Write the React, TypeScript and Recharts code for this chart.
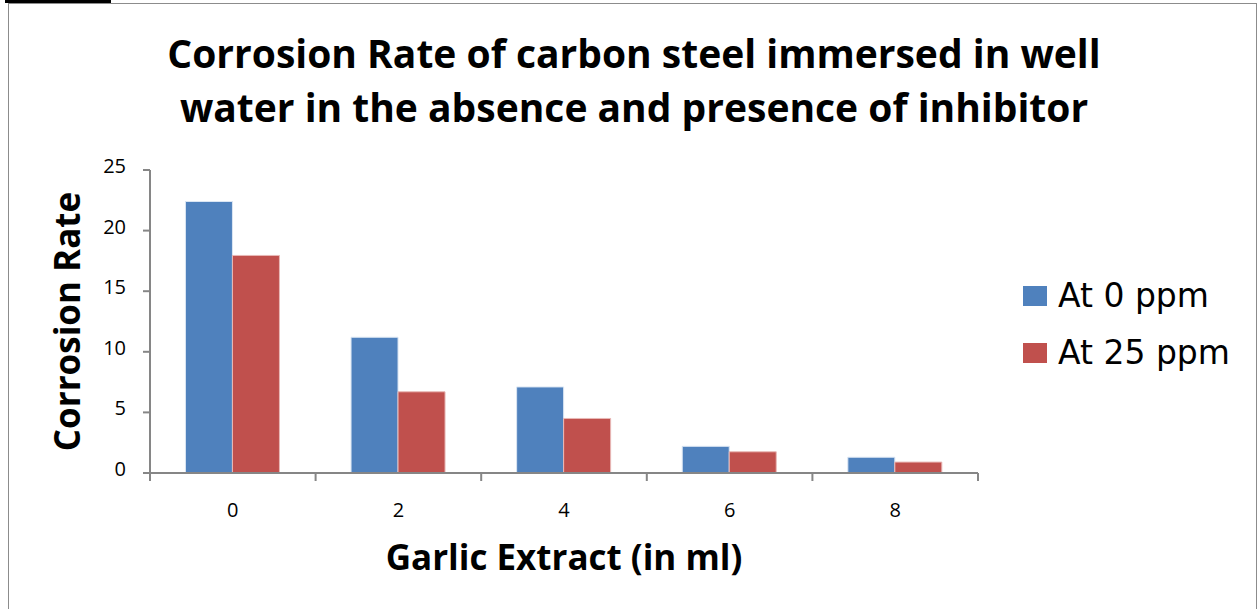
import { BarChart, Bar, XAxis, YAxis, Legend, Label } from "recharts";

const extract = ["0", "2", "4", "6", "8"];
const at0ppm = [22.4, 11.2, 7.1, 2.2, 1.3];
const at25ppm = [17.95, 6.7, 4.5, 1.75, 0.9];
const yTicks = [0, 5, 10, 15, 20, 25];

const data = extract.map((x, i) => ({ x, a: at0ppm[i], b: at25ppm[i] }));

const axisColor = "#868686";
const font = "'Open Sans', sans-serif";

function LegendBox({ payload }: any) {
  return (
    <div style={{ fontFamily: "'DejaVu Sans', sans-serif", fontSize: 33, color: "#000" }}>
      {(payload || []).map((p: any) => (
        <div key={p.value} style={{ display: "flex", alignItems: "center", height: 57 }}>
          <span style={{ width: 24, height: 20, background: p.color, marginRight: 11 }} />
          <span>{p.value}</span>
        </div>
      ))}
    </div>
  );
}

// label at the band centre, tick marks on the band edges (spreadsheet style)
function XTick({ x, y, payload, index, visibleTicksCount }: any) {
  const half = payload.offset || 0;
  const last = index === visibleTicksCount - 1;
  return (
    <g>
      <line x1={x - half} x2={x - half} y1={y} y2={y + 8} stroke={axisColor} strokeWidth={2} />
      {last && <line x1={x + half} x2={x + half} y1={y} y2={y + 8} stroke={axisColor} strokeWidth={2} />}
      <text x={x} y={y} dy={44} textAnchor="middle" fill="#000" style={{ fontSize: 20, fontFamily: font }}>
        {payload.value}
      </text>
    </g>
  );
}

function YTick({ x, y, payload }: any) {
  return (
    <text x={x} y={y} dy={3} textAnchor="end" fill="#000" style={{ fontSize: 20, fontFamily: font }}>
      {payload.value}
    </text>
  );
}

export default function App() {
  return (
    <div style={{ position: "absolute", left: 0, top: 0, width: 1258, height: 609, background: "#fff", overflow: "hidden" }}>
      <div style={{ position: "absolute", left: 5, top: 0, width: 106, height: 3, background: "#000" }} />
      <div
        style={{
          position: "absolute",
          left: 8,
          top: 3,
          width: 1247,
          height: 620,
          border: "1px solid #8c8c8c",
          borderBottom: "none",
        }}
      />
      <div
        style={{
          position: "absolute",
          left: 0,
          top: 26,
          width: 1268,
          textAlign: "center",
          fontFamily: font,
          fontWeight: 700,
          fontSize: 39,
          lineHeight: "54px",
          color: "#000",
        }}
      >
        Corrosion Rate of carbon steel immersed in well
        <br />
        water in the absence and presence of inhibitor
      </div>
      <BarChart
        width={1258}
        height={609}
        data={data}
        margin={{ top: 170, right: 50, bottom: 0, left: 0 }}
        barCategoryGap="21.4%"
        barGap={0}
        style={{ position: "absolute", left: 0, top: 0 }}
      >
        <XAxis
          dataKey="x"
          height={136}
          axisLine={{ stroke: axisColor, strokeWidth: 2 }}
          tickLine={false}
          tickSize={0}
          tickMargin={0}
          tick={<XTick />}
        >
          <Label
            value="Garlic Extract (in ml)"
            position="insideTop"
            offset={72}
            style={{ fill: "#000", fontSize: 35, fontWeight: 700, fontFamily: font }}
          />
        </XAxis>
        <YAxis
          width={150}
          domain={[0, 25]}
          ticks={yTicks}
          axisLine={{ stroke: axisColor, strokeWidth: 2 }}
          tickLine={{ stroke: axisColor, strokeWidth: 2 }}
          tickSize={7}
          tickMargin={17}
          tick={<YTick />}
        >
          <Label
            value="Corrosion Rate"
            angle={-90}
            position="insideLeft"
            offset={68}
            style={{ textAnchor: "middle", fill: "#000", fontSize: 35, fontWeight: 700, fontFamily: font }}
          />
        </YAxis>
        <Legend
          layout="vertical"
          align="right"
          verticalAlign="top"
          content={<LegendBox />}
          wrapperStyle={{ left: 1023, top: 267, width: 230 }}
        />
        <Bar dataKey="a" name="At 0 ppm" fill="#4f81bd" stroke="#dbe6f3" strokeWidth={1} isAnimationActive={false} />
        <Bar dataKey="b" name="At 25 ppm" fill="#c0504d" stroke="#e8b8b6" strokeWidth={1} isAnimationActive={false} />
      </BarChart>
    </div>
  );
}
